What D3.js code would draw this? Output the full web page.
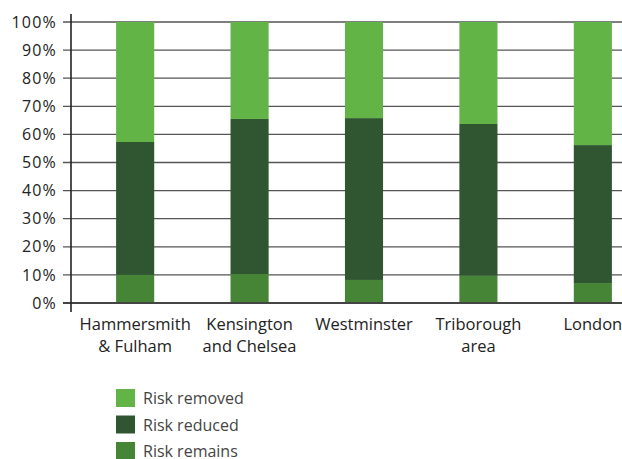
<!DOCTYPE html>
<html>
<head>
<meta charset="utf-8">
<script src="https://cdn.jsdelivr.net/npm/d3@7/dist/d3.min.js"></script>
<style>
  html, body { margin: 0; padding: 0; background: #fff; }
  svg { display: block; font-family: "Open Sans", "Noto Sans", sans-serif; }
</style>
</head>
<body>
<svg id="chart" width="622" height="459"></svg>
<script>
// Share of risk by area (percent of total)
const categories = [
  ["Hammersmith", "& Fulham"],
  ["Kensington", "and Chelsea"],
  ["Westminster"],
  ["Triborough", "area"],
  ["London"]
];
const riskRemains = [10.0, 10.3, 8.2, 9.7, 7.1];
const riskReduced = [47.3, 55.2, 57.6, 54.0, 49.1];
const riskRemoved = [42.7, 34.5, 34.2, 36.3, 43.8];

const seriesNames = ["Risk remains", "Risk reduced", "Risk removed"];
const seriesColors = ["#468535", "#2f5630", "#62b446"];
const yTicks = [0, 10, 20, 30, 40, 50, 60, 70, 80, 90, 100];

const svg = d3.select("#chart");
const plotLeft = 71, plotTop = 22, plotBottom = 303, plotRight = 622;

const keys = categories.map(c => c.join(" "));
const table = keys.map((k, i) => ({
  key: k,
  "Risk remains": riskRemains[i],
  "Risk reduced": riskReduced[i],
  "Risk removed": riskRemoved[i]
}));
const stacked = d3.stack().keys(seriesNames)(table);

const x = d3.scaleBand()
  .domain(keys)
  .range([78, 650])
  .paddingInner(0.667)
  .paddingOuter(0.333);

const y = d3.scaleLinear().domain([0, 100]).range([plotBottom, plotTop]);

// horizontal gridlines with short ticks left of the axis
const grid = svg.append("g");
grid.selectAll("line")
  .data(yTicks)
  .join("line")
  .attr("x1", plotLeft - 8)
  .attr("x2", plotRight)
  .attr("y1", d => y(d))
  .attr("y2", d => y(d))
  .attr("stroke", d => d === 0 ? "#333" : "#555")
  .attr("stroke-width", d => d === 0 ? 2 : 1.3);

// y tick labels
const yAxis = d3.axisLeft(y)
  .tickValues(yTicks)
  .tickFormat(d => d + "%")
  .tickSize(0)
  .tickPadding(14);
const yg = svg.append("g")
  .attr("transform", `translate(${plotLeft},0)`)
  .call(yAxis);
yg.select(".domain").remove();
yg.selectAll("text")
  .attr("font-size", 16)
  .attr("fill", "#222")
  .attr("font-family", "'Open Sans', sans-serif")
  .style("letter-spacing", "1.2px");

// stacked bars
svg.append("g")
  .selectAll("g")
  .data(stacked)
  .join("g")
  .attr("fill", (d, i) => seriesColors[i])
  .selectAll("rect")
  .data(d => d)
  .join("rect")
  .attr("x", d => x(d.data.key))
  .attr("width", x.bandwidth())
  .attr("y", d => y(d[1]))
  .attr("height", d => y(d[0]) - y(d[1]));

// redraw baseline over bars
svg.append("line")
  .attr("x1", plotLeft - 8).attr("x2", plotRight)
  .attr("y1", y(0)).attr("y2", y(0))
  .attr("stroke", "#444").attr("stroke-width", 2);

// vertical axis line
svg.append("line")
  .attr("x1", plotLeft).attr("x2", plotLeft)
  .attr("y1", 14).attr("y2", 312)
  .attr("stroke", "#222").attr("stroke-width", 1.6);

// category labels (wrapped)
const xl = svg.append("g");
categories.forEach((lines, i) => {
  const cx = x(keys[i]) + x.bandwidth() / 2;
  const t = xl.append("text")
    .attr("text-anchor", "middle")
    .attr("font-size", 16.5)
    .attr("fill", "#222");
  lines.forEach((ln, j) => {
    t.append("tspan")
      .attr("x", cx)
      .attr("y", 330 + j * 22)
      .text(ln);
  });
});

// legend (top entry is the top stack segment)
const legendOrder = [2, 1, 0];
const lg = svg.append("g").attr("transform", "translate(116,389)");
legendOrder.forEach((si, j) => {
  const row = lg.append("g").attr("transform", `translate(0,${j * 26.5})`);
  row.append("rect")
    .attr("width", 19).attr("height", 18)
    .attr("fill", seriesColors[si]);
  row.append("text")
    .attr("x", 27).attr("y", 15)
    .attr("font-size", 16)
    .attr("fill", "#444")
    .text(seriesNames[si]);
});
</script>
</body>
</html>
